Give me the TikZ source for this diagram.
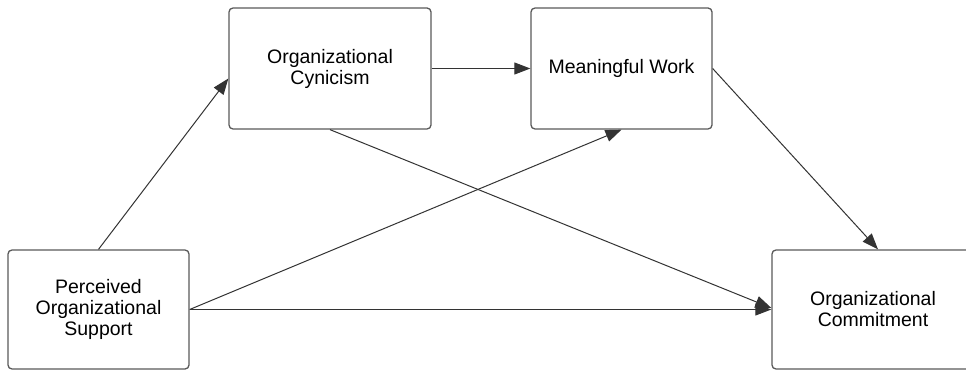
\documentclass[tikz,border=0pt]{standalone}
\usepackage{fontspec}
\setmainfont{Liberation Sans}
\usetikzlibrary{arrows.meta}
\definecolor{boxline}{HTML}{5A5A5A}
\definecolor{arrline}{HTML}{333333}
\begin{document}
\begin{tikzpicture}[x=1pt,y=1pt,
  box/.style={draw=boxline,line width=1.3pt,rounded corners=4pt,fill=white,
    align=center,inner sep=0pt,text=black,
    font=\fontsize{19.5}{21}\selectfont},
  conn/.style={draw=arrline,line width=1pt,-{Triangle[length=16pt,width=12pt]}}]
\clip (0,0) rectangle (966,370);
\fill[white] (0,0) rectangle (966,370);
\node[box,minimum width=202pt,minimum height=121pt] (oc) at (330,301.5) {Organizational\\Cynicism};
\node[box,minimum width=181pt,minimum height=121pt] (mw) at (621.5,301.5) {Meaningful Work};
\node[box,minimum width=181pt,minimum height=119pt] (pos) at (98.5,60.5) {Perceived\\Organizational\\Support};
\node[box,minimum width=202pt,minimum height=119pt] (com) at (873,60.5) {Organizational\\Commitment};
\draw[conn] (pos.north) -- ([yshift=-10pt]oc.west);
\draw[conn] (oc.east) -- (mw.west);
\draw[conn] (oc.south) -- ([yshift=1.5pt]com.west);
\draw[conn] (pos.east) -- (mw.south);
\draw[conn] (pos.east) -- (com.west);
\draw[conn] (mw.east) -- ([xshift=5pt]com.north);
\end{tikzpicture}
\end{document}
